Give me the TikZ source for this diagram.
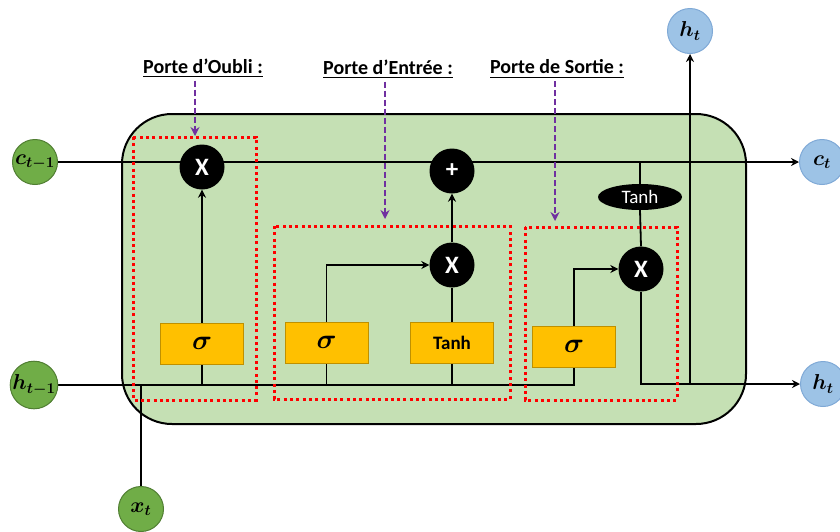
\documentclass[tikz,border=0pt]{standalone}
\usepackage{fontspec}
\setsansfont{Carlito}
\usepackage{amsmath,bm}
\usetikzlibrary{arrows.meta,backgrounds,shapes.geometric}
\definecolor{cellg}{HTML}{C5E0B4}
\definecolor{ing}{HTML}{70AD47}
\definecolor{ingb}{HTML}{507E32}
\definecolor{outb}{HTML}{9DC3E6}
\definecolor{outbb}{HTML}{7FA9D6}
\definecolor{gold}{HTML}{FFC000}
\definecolor{goldb}{HTML}{BF9000}
\definecolor{purp}{HTML}{7030A0}
\newcommand{\bigmath}[1]{\scalebox{1.25}{$\bm{#1}$}}
\newcommand{\sigmath}{\scalebox{1.6}{$\bm{\sigma}$}}
\begin{document}
\begin{tikzpicture}[x=1pt,y=-1pt,
  incirc/.style={circle,fill=ing,draw=ingb,line width=1pt,minimum size=45pt,inner sep=0pt,font=\fontsize{17.28}{17}\selectfont},
  outcirc/.style={circle,fill=outb,draw=outbb,line width=1pt,minimum size=45pt,inner sep=0pt,font=\fontsize{17.28}{17}\selectfont},
  opcirc/.style={circle,fill=black,minimum size=45pt,inner sep=0pt,text=white,font=\sffamily\bfseries\fontsize{25}{25}\selectfont},
  gatebox/.style={rectangle,fill=gold,draw=goldb,line width=1pt,minimum width=83pt,minimum height=41pt,inner sep=0pt,font=\fontsize{17.28}{17}\selectfont},
  conn/.style={line width=1.8pt,draw=black},
  arr/.style={conn,-{Stealth[length=8pt,width=8pt,open]}},
  gatebound/.style={draw=red,line width=3pt,dash pattern=on 3pt off 3.3pt},
  glabel/.style={font=\sffamily\bfseries\fontsize{20}{20}\selectfont,inner sep=0pt},
  parr/.style={draw=purp,line width=1.6pt,dash pattern=on 6pt off 3pt,-{Stealth[length=9pt,width=9pt]}}
  ]
\useasboundingbox (0,0) rectangle (840,531);
% outer nodes
\node[incirc] (ctm1) at (35,162) {\bigmath{c_{t-1}}};
\node[incirc] (htm1) at (34,385) {\bigmath{h_{t-1}}};
\node[incirc] (xt) at (141,509) {\bigmath{x_{t}}};
\node[outcirc] (hup) at (690,31) {\bigmath{h_{t}}};
\node[outcirc] (ct) at (822,162) {\bigmath{c_{t}}};
\node[outcirc] (hto) at (823,384) {\bigmath{h_{t}}};
% operators
\node[opcirc] (fx) at (202,167) {X};
\node[opcirc] (px) at (452,171) {+};
\node[opcirc] (ix) at (452,265) {X};
\node[opcirc] (ox) at (641,269) {X};
\node[ellipse,fill=black,minimum width=84pt,minimum height=26pt,inner sep=0pt,text=white,font=\sffamily\fontsize{19}{19}\selectfont] (te) at (640,197) {Tanh};
% gate boxes
\node[gatebox] (fs) at (202,343.5) {\sigmath};
\node[gatebox] (is) at (326.5,342.5) {\sigmath};
\node[gatebox] (it) at (452,342.5) {\sffamily\bfseries\fontsize{19}{19}\selectfont Tanh};
\node[gatebox] (os) at (574,346.5) {\sigmath};
% labels
\node[glabel] (lf) at (203,68) {\underline{Porte d’Oubli :}};
\node[glabel] (li) at (388,69) {\underline{Porte d’Entrée :}};
\node[glabel] (lo) at (557,69) {\underline{Porte de Sortie :}};
\coordinate (fa) at (195,136);
\coordinate (ia) at (385,219);
\coordinate (oa) at (555,221);
% coordinates on the h line
\coordinate (hend) at (574,385);
\coordinate (xj) at (141,385);
\begin{scope}[on background layer]
  \draw[fill=cellg,line width=2pt,rounded corners=50pt] (122,114) rectangle (746,424);
  \draw[arr] (ctm1.east) -- (ct.west);
  \draw[conn] (htm1.east) -- (hend) -- (os.south);
  \draw[conn] (xt.north) -- (xj);
  \draw[conn] (fs.south) -- (fs.south |- hend);
  \draw[arr] (fs.north) -- (fx.south);
  \draw[conn] (is.south) -- (is.south |- hend);
  \draw[arr] (is.north) |- (ix.west);
  \draw[conn] (it.south) -- (it.south |- hend);
  \draw[conn] (it.north) -- (ix.south);
  \draw[arr] (ix.north) -- (px.south);
  \draw[arr] (os.north) |- (ox.west);
  \draw[conn] (te.north) -- (te.north |- ctm1);
  \draw[conn] (te.south) -- (ox.north);
  \draw[arr] (ox.south) |- (hto.west);
  \draw[arr] (hup.south |- hto) -- (hup.south);
\end{scope}
% gate boundaries
\draw[gatebound] (133,137) rectangle (256,400);
\draw[gatebound] (274,226) rectangle (510,399);
\draw[gatebound] (525,227) rectangle (677,400);
% purple arrows
\draw[parr] (lf.south -| fa) ++(0,3) -- (fa);
\draw[parr] (li.south -| ia) ++(0,3) -- (ia);
\draw[parr] (lo.south -| oa) ++(0,3) -- (oa);
\end{tikzpicture}
\end{document}
